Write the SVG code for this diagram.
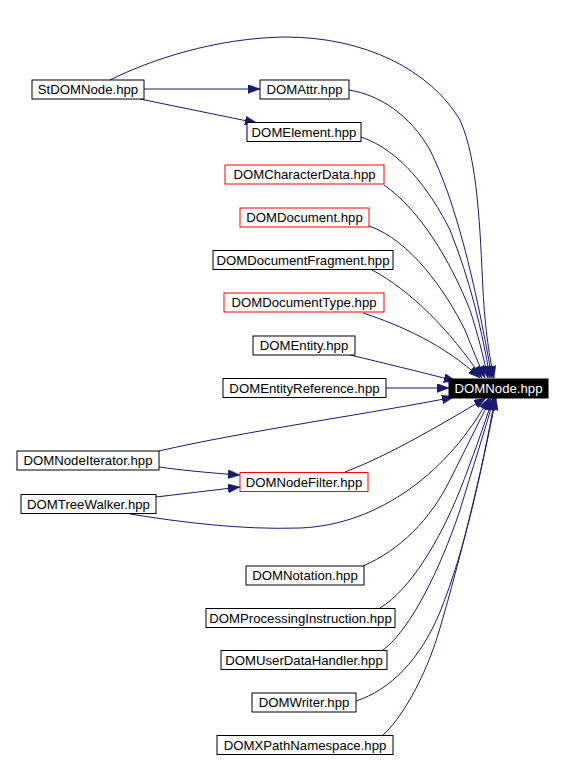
<svg xmlns="http://www.w3.org/2000/svg" width="564" height="761" viewBox="0 0 564 761">
<style>
.n rect{fill:#fff;stroke:#000;stroke-width:1}
.n.r rect{stroke:#ff0000}
.n text{font-family:"Liberation Sans",Arial,sans-serif;font-size:13.2px;text-anchor:middle;fill:#000}
.n.m rect{fill:#000}
.n.m text{fill:#fff}
#edges path{fill:none;stroke:#191970;stroke-width:1;marker-end:url(#ah)}
</style>
<defs>
<marker id="ah" markerUnits="userSpaceOnUse" markerWidth="12" markerHeight="9" refX="12" refY="4.5" orient="auto">
<path d="M0,0 L12,4.5 L0,9 z" fill="#191970" stroke="#191970" stroke-width="0.5"/>
</marker>
</defs>
<rect width="564" height="761" fill="#fff"/>
<g id="edges">
<path d="M144,89 L260,89"/>
<path d="M140,99 L257,123"/>
<path d="M110,80 C150,60 215,38 285,37 C365,37 430,70 460,120 C478,160 480,230 483,290 C485,330 490,360 494,378"/>
<path d="M349,90 C380,95 410,115 430,150 C455,200 475,280 492,378"/>
<path d="M361,137 C400,150 430,190 450,230 C470,280 482,330 490,378"/>
<path d="M384,185 C420,210 450,260 470,310 C478,335 483,355 488,378"/>
<path d="M369,226 C410,240 445,290 465,330 C473,350 479,365 485,378"/>
<path d="M372,270 C410,290 450,330 482,378"/>
<path d="M363,313 C400,325 445,345 480,378"/>
<path d="M350,355 C380,362 420,372 456,381"/>
<path d="M386,388 L449,388"/>
<path d="M159,451 C240,432 380,412 454,397"/>
<path d="M159,467 C180,470 210,473 240,475"/>
<path d="M156,497 L240,487"/>
<path d="M345,472 C390,455 440,425 486,398"/>
<path d="M130,514 C180,522 240,530 300,528 C380,525 450,470 489,398"/>
<path d="M363,566 C400,550 430,520 450,480 C465,450 480,420 491,398"/>
<path d="M380,608 C410,590 440,540 460,490 C472,460 484,425 493,398"/>
<path d="M383,650 C410,630 440,570 460,510 C472,470 485,430 494,398"/>
<path d="M356,701 C390,690 420,660 440,612 C465,550 482,470 495,398"/>
<path d="M383,735 C400,720 425,680 440,628 C460,560 482,470 496,398"/>
</g>
<g id="DOMNode" class="n m"><rect x="449" y="379" width="99" height="19"/><text x="498.5" y="393">DOMNode.hpp</text></g>
<g id="StDOMNode" class="n"><rect x="32" y="80" width="112" height="19"/><text x="88" y="94">StDOMNode.hpp</text></g>
<g id="DOMAttr" class="n"><rect x="260" y="80" width="89" height="19"/><text x="304.5" y="94">DOMAttr.hpp</text></g>
<g id="DOMElement" class="n"><rect x="247" y="122.5" width="114" height="19"/><text x="304" y="136.5">DOMElement.hpp</text></g>
<g id="DOMCharacterData" class="n r"><rect x="225" y="165" width="159" height="19"/><text x="304.5" y="179">DOMCharacterData.hpp</text></g>
<g id="DOMDocument" class="n r"><rect x="240" y="208" width="129" height="19"/><text x="304.5" y="222">DOMDocument.hpp</text></g>
<g id="DOMDocumentFragment" class="n"><rect x="213" y="250.5" width="180" height="19"/><text x="303" y="264.5">DOMDocumentFragment.hpp</text></g>
<g id="DOMDocumentType" class="n r"><rect x="224" y="293" width="160" height="19"/><text x="304" y="307">DOMDocumentType.hpp</text></g>
<g id="DOMEntity" class="n"><rect x="253" y="336" width="102" height="19"/><text x="304" y="350">DOMEntity.hpp</text></g>
<g id="DOMEntityReference" class="n"><rect x="223" y="378.5" width="163" height="19"/><text x="304.5" y="392.5">DOMEntityReference.hpp</text></g>
<g id="DOMNodeIterator" class="n"><rect x="17" y="451" width="142" height="19"/><text x="88" y="465">DOMNodeIterator.hpp</text></g>
<g id="DOMNodeFilter" class="n r"><rect x="240" y="472.5" width="128" height="19"/><text x="304" y="486.5">DOMNodeFilter.hpp</text></g>
<g id="DOMTreeWalker" class="n"><rect x="21" y="494.5" width="135" height="19"/><text x="88.5" y="508.5">DOMTreeWalker.hpp</text></g>
<g id="DOMNotation" class="n"><rect x="246" y="566" width="118" height="19"/><text x="305" y="580">DOMNotation.hpp</text></g>
<g id="DOMProcessingInstruction" class="n"><rect x="206" y="608.5" width="189" height="19"/><text x="300.5" y="622.5">DOMProcessingInstruction.hpp</text></g>
<g id="DOMUserDataHandler" class="n"><rect x="221" y="650.5" width="166" height="19"/><text x="304" y="664.5">DOMUserDataHandler.hpp</text></g>
<g id="DOMWriter" class="n"><rect x="252" y="693" width="104" height="19"/><text x="304" y="707">DOMWriter.hpp</text></g>
<g id="DOMXPathNamespace" class="n"><rect x="217" y="735.5" width="176" height="19"/><text x="305" y="749.5">DOMXPathNamespace.hpp</text></g>
</svg>
